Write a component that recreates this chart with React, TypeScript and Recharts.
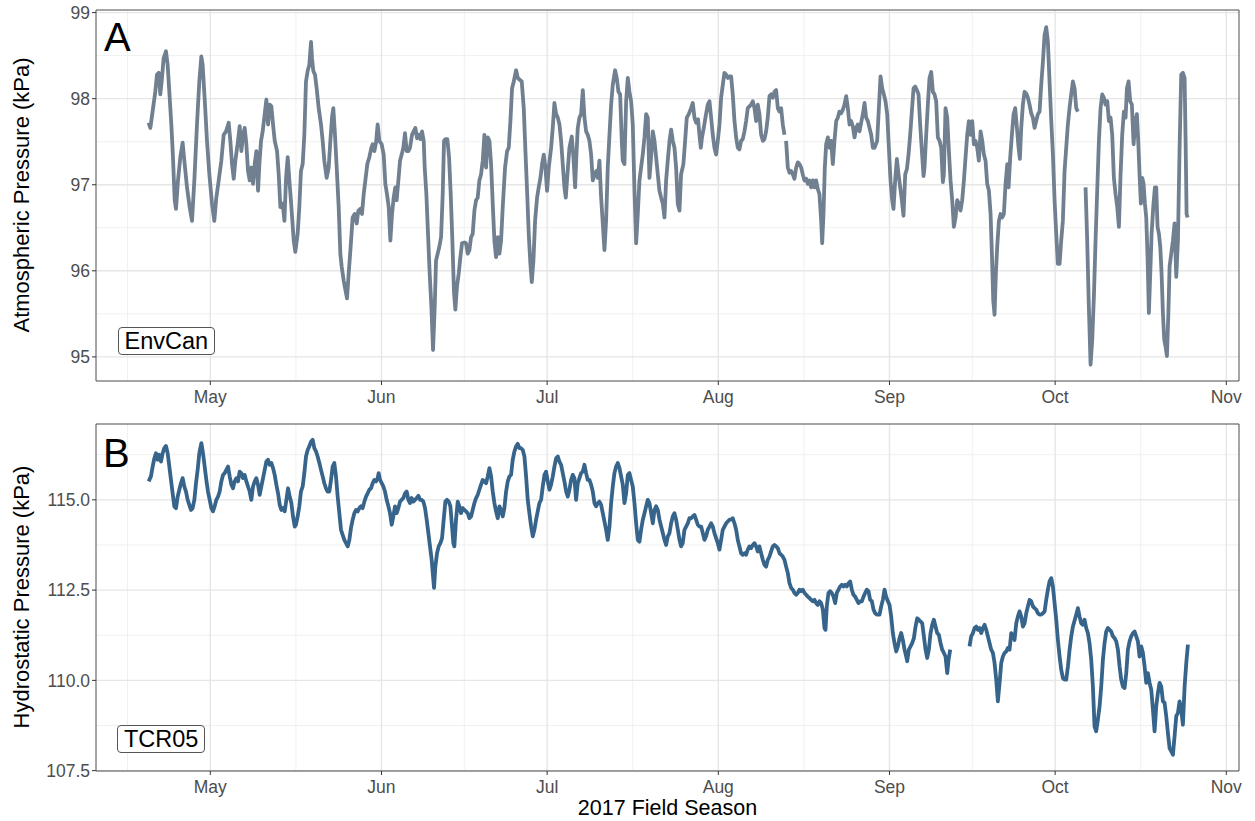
import React from "react";
import { LineChart, Line, XAxis, YAxis, CartesianGrid, ReferenceArea } from "recharts";

type Pt = [number, number | null];

// [day of year 2017 (Jan 1 = 0), kPa]; null = gap in the record
const envCanApr: Pt[] = [
  [108.83, 97.72], [109.14, 97.66], [109.44, 97.8], [110.04, 98.08], [110.34, 98.28], [110.65, 98.3], [110.95, 98.05],
  [111.25, 98.24], [111.55, 98.47], [111.97, 98.55], [112.28, 98.39], [112.58, 98.08], [112.94, 97.7], [113.24, 97.32],
  [113.55, 96.82], [113.79, 96.72], [114.15, 97.05], [114.57, 97.32], [114.99, 97.49], [115.36, 97.24], [115.78, 96.97],
  [116.26, 96.74], [116.69, 96.58], [117.11, 97.05], [117.59, 97.7], [118.01, 98.2], [118.38, 98.49], [118.62, 98.39],
  [118.98, 98.0], [119.4, 97.51], [119.83, 97.12],
];
const envCanMay: Pt[] = [
  [120.31, 96.78], [120.73, 96.58], [121.09, 96.85], [121.52, 97.05], [122.0, 97.28], [122.42, 97.58], [122.85, 97.62],
  [123.33, 97.72], [123.63, 97.51], [123.93, 97.24], [124.24, 97.07], [124.54, 97.28], [125.02, 97.51], [125.32, 97.68],
  [125.63, 97.39], [125.93, 97.58], [126.23, 97.66], [126.53, 97.47], [126.83, 97.16], [127.14, 97.05], [127.44, 97.2],
  [127.74, 97.01], [128.04, 97.24], [128.34, 97.39], [128.65, 96.93], [128.89, 97.24], [129.19, 97.51], [129.49, 97.62],
  [129.85, 97.82], [130.16, 97.99], [130.46, 97.7], [130.76, 97.93], [131.06, 97.91], [131.36, 97.7], [131.67, 97.51],
  [132.09, 97.39], [132.39, 97.12], [132.69, 96.74], [133.11, 96.78], [133.42, 96.58], [133.72, 97.08], [134.02, 97.32],
  [134.32, 97.05], [134.69, 96.74], [135.11, 96.35], [135.4, 96.22], [135.82, 96.43], [136.12, 96.74], [136.42, 97.16],
  [136.73, 97.24], [137.03, 97.58], [137.33, 98.2], [137.63, 98.32], [137.93, 98.39], [138.24, 98.66], [138.42, 98.47],
  [138.66, 98.32], [138.96, 98.28], [139.26, 98.12], [139.63, 97.89], [140.05, 97.7], [140.35, 97.51], [140.65, 97.28],
  [141.07, 97.08], [141.44, 97.2], [141.74, 97.51], [142.04, 97.78], [142.28, 97.89], [142.58, 97.58], [142.89, 97.2],
  [143.25, 96.74], [143.55, 96.2], [143.79, 96.05], [144.15, 95.89], [144.46, 95.78], [144.76, 95.68], [145.06, 95.97],
  [145.42, 96.28], [145.78, 96.62], [146.15, 96.66], [146.51, 96.55], [146.81, 96.7], [147.17, 96.72], [147.47, 96.66],
  [147.78, 96.89], [148.08, 97.05], [148.44, 97.24], [148.8, 97.32], [149.17, 97.43], [149.41, 97.47], [149.71, 97.39],
  [150.01, 97.49], [150.31, 97.7], [150.62, 97.51],
];
const envCanJun: Pt[] = [
  [151.04, 97.47], [151.4, 97.35], [151.7, 97.01], [152.0, 96.89], [152.31, 96.74], [152.61, 96.35], [152.91, 96.66],
  [153.21, 96.85], [153.51, 96.97], [153.75, 96.82], [154.06, 97.05], [154.36, 97.28], [154.66, 97.35], [154.96, 97.43],
  [155.26, 97.6], [155.57, 97.39], [155.87, 97.39], [156.17, 97.43], [156.53, 97.58], [156.83, 97.62], [157.14, 97.66],
  [157.44, 97.54], [157.74, 97.58], [158.04, 97.53], [158.34, 97.62], [158.65, 97.51], [158.83, 97.2], [159.13, 96.89],
  [159.43, 96.43], [159.73, 95.97], [160.04, 95.58], [160.34, 95.08], [160.64, 95.58], [160.88, 96.12], [161.18, 96.2],
  [161.48, 96.28], [161.79, 96.39], [162.09, 96.89], [162.33, 97.51], [162.57, 97.53], [162.93, 97.53], [163.24, 97.32],
  [163.54, 96.89], [163.84, 96.35], [164.14, 95.74], [164.38, 95.55], [164.68, 95.82], [164.99, 95.97], [165.29, 96.16],
  [165.59, 96.32], [166.01, 96.33], [166.31, 96.32], [166.62, 96.2], [166.92, 96.24], [167.22, 96.39], [167.52, 96.43],
  [167.83, 96.7], [168.13, 96.82], [168.43, 96.85], [168.73, 97.05], [169.03, 97.12], [169.34, 97.28], [169.64, 97.58],
  [169.94, 97.2], [170.24, 97.55], [170.55, 97.51], [170.85, 97.24], [171.15, 96.78], [171.45, 96.35], [171.75, 96.16],
  [172.06, 96.39], [172.36, 96.2], [172.66, 96.35], [172.96, 96.74], [173.38, 97.2], [173.75, 97.39], [174.05, 97.43],
  [174.35, 97.74], [174.65, 98.12], [174.96, 98.2], [175.38, 98.33], [175.68, 98.24], [176.04, 98.22], [176.4, 98.2],
  [176.77, 97.89], [177.07, 97.39], [177.37, 96.93], [177.67, 96.43], [177.97, 96.08], [178.22, 95.87], [178.52, 96.12],
  [178.82, 96.58], [179.18, 96.85], [179.48, 96.97], [179.79, 97.08], [180.09, 97.24], [180.39, 97.35], [180.69, 97.2],
  [180.99, 96.93],
];
const envCanJul: Pt[] = [
  [181.3, 97.2], [181.72, 97.43], [182.02, 97.66], [182.32, 97.95], [182.63, 97.82], [182.93, 97.78], [183.23, 97.7],
  [183.53, 97.51], [183.83, 97.24], [184.13, 96.97], [184.38, 96.85], [184.68, 97.12], [185.04, 97.43], [185.46, 97.56],
  [185.76, 97.32], [186.07, 96.97], [186.31, 97.35], [186.55, 97.66], [186.85, 97.78], [187.15, 97.82], [187.46, 98.1],
  [187.76, 97.78], [188.06, 97.62], [188.36, 97.58], [188.66, 97.51], [188.97, 97.35], [189.27, 97.05], [189.57, 97.12],
  [189.93, 97.16], [190.17, 97.08], [190.47, 97.28], [190.78, 96.85], [191.08, 96.55], [191.38, 96.24], [191.68, 96.58],
  [191.98, 97.2], [192.29, 97.58], [192.59, 97.93], [192.89, 98.16], [193.31, 98.33], [193.61, 98.24], [193.92, 98.08],
  [194.22, 98.05], [194.52, 97.51], [194.7, 97.28], [195.0, 97.24], [195.31, 97.97], [195.61, 98.24], [195.91, 98.08],
  [196.21, 97.97], [196.51, 97.7], [196.82, 96.93], [197.12, 96.32], [197.42, 96.66], [197.72, 97.05], [198.02, 97.2],
  [198.32, 97.35], [198.63, 97.55], [198.93, 97.82], [199.23, 97.78], [199.53, 97.08], [199.83, 97.32], [200.14, 97.62],
  [200.44, 97.51], [200.74, 97.32], [201.04, 97.12], [201.34, 96.93], [201.65, 96.85], [201.95, 96.78], [202.25, 96.62],
  [202.55, 97.05], [202.85, 97.28], [203.16, 97.51], [203.46, 97.64], [203.76, 97.51], [204.06, 97.43], [204.36, 97.2],
  [204.66, 96.78], [204.97, 96.7], [205.26, 97.12], [205.68, 97.24], [205.99, 97.51], [206.29, 97.78], [206.65, 97.82],
  [207.07, 97.89], [207.38, 97.95], [207.68, 97.78], [207.98, 97.72], [208.34, 97.76], [208.58, 97.58], [208.83, 97.43],
  [209.07, 97.56], [209.37, 97.66], [209.67, 97.78], [210.09, 97.93], [210.4, 97.97], [210.7, 97.78], [211.0, 97.58],
  [211.3, 97.43], [211.6, 97.35], [211.91, 97.51],
];
const envCanAug: Pt[] = [
  [212.21, 97.7], [212.51, 98.01], [212.81, 98.16], [213.11, 98.3], [213.42, 98.28], [213.72, 98.24], [214.02, 98.26],
  [214.32, 98.26], [214.62, 98.05], [214.93, 97.74], [215.23, 97.55], [215.53, 97.43], [215.83, 97.41], [216.13, 97.51],
  [216.43, 97.53], [216.74, 97.62], [217.04, 97.74], [217.34, 97.89], [217.64, 97.91], [217.94, 97.93], [218.25, 97.97],
  [218.55, 97.89], [218.85, 97.74], [219.15, 97.93], [219.45, 97.82], [219.76, 97.58], [220.06, 97.51], [220.36, 97.53],
  [220.66, 97.62], [220.96, 97.78], [221.27, 98.03], [221.57, 98.05], [221.87, 98.01], [222.17, 98.08], [222.47, 98.1],
  [222.78, 97.89], [223.08, 97.85], [223.38, 97.89], [223.68, 97.7], [223.98, 97.58], [224.13, null], [224.28, 97.51],
  [224.59, 97.2], [224.89, 97.14], [225.19, 97.16], [225.49, 97.12], [225.79, 97.07], [226.1, 97.2], [226.4, 97.26],
  [226.7, 97.24], [227.0, 97.2], [227.3, 97.12], [227.61, 97.05], [227.91, 97.07], [228.21, 97.01], [228.51, 97.05],
  [228.81, 96.97], [229.12, 97.05], [229.42, 96.97], [229.72, 97.05], [230.02, 96.95], [230.32, 96.89], [230.63, 96.58],
  [230.81, 96.32], [231.05, 96.66], [231.29, 97.2], [231.53, 97.47], [231.84, 97.55], [232.14, 97.43], [232.44, 97.51],
  [232.74, 97.24], [233.04, 97.51], [233.35, 97.74], [233.65, 97.78], [233.95, 97.85], [234.25, 97.83], [234.55, 97.87],
  [234.85, 97.93], [235.16, 98.03], [235.46, 97.89], [235.76, 97.7], [236.06, 97.74], [236.36, 97.68], [236.67, 97.55],
  [236.97, 97.66], [237.27, 97.7], [237.57, 97.62], [237.87, 97.72], [238.18, 97.82], [238.48, 97.95], [238.78, 97.78],
  [239.08, 97.74], [239.38, 97.66], [239.69, 97.58], [239.99, 97.43], [240.29, 97.43], [240.77, 97.51], [241.08, 97.89],
  [241.38, 98.26], [241.68, 98.12], [241.98, 98.05], [242.28, 97.97], [242.59, 97.82], [242.89, 97.43],
];
const envCanSep: Pt[] = [
  [243.19, 97.05], [243.49, 96.82], [243.73, 96.72], [244.03, 97.05], [244.34, 97.3], [244.64, 97.12], [244.94, 96.97],
  [245.24, 96.82], [245.54, 96.64], [245.85, 97.12], [246.15, 97.18], [246.45, 97.35], [246.75, 97.58], [247.05, 97.85],
  [247.36, 98.12], [247.66, 98.14], [247.96, 98.1], [248.26, 98.05], [248.56, 97.7], [248.87, 97.39], [249.17, 97.1],
  [249.35, 97.2], [249.65, 97.58], [249.95, 97.93], [250.25, 98.24], [250.56, 98.31], [250.86, 98.08], [251.16, 98.05],
  [251.46, 97.97], [251.76, 97.55], [252.07, 97.51], [252.37, 97.43], [252.67, 97.03], [252.85, 97.12], [253.15, 97.89],
  [253.46, 97.78], [253.76, 97.39], [254.06, 97.05], [254.36, 96.82], [254.66, 96.51], [254.97, 96.62], [255.27, 96.82],
  [255.57, 96.78], [255.87, 96.7], [256.17, 96.82], [256.48, 97.05], [256.78, 97.32], [257.08, 97.58], [257.38, 97.74],
  [257.68, 97.58], [257.99, 97.74], [258.29, 97.47], [258.59, 97.51], [258.89, 97.43], [259.19, 97.28], [259.5, 97.62],
  [259.8, 97.51], [260.1, 97.35], [260.4, 97.28], [260.7, 97.01], [261.01, 96.93], [261.31, 96.66], [261.55, 96.2],
  [261.79, 95.66], [262.03, 95.49], [262.27, 95.97], [262.51, 96.28], [262.82, 96.58], [263.12, 96.66], [263.42, 96.62],
  [263.72, 96.66], [264.02, 97.01], [264.33, 97.24], [264.57, 96.97], [264.87, 97.32], [265.17, 97.58], [265.47, 97.82],
  [265.77, 97.89], [266.08, 97.66], [266.38, 97.43], [266.62, 97.3], [266.86, 97.66], [267.16, 97.93], [267.46, 98.08],
  [267.77, 98.06], [268.07, 98.01], [268.37, 97.93], [268.67, 97.83], [268.97, 97.78], [269.28, 97.66], [269.58, 97.74],
  [269.88, 97.82], [270.18, 97.85], [270.48, 98.16], [270.79, 98.43], [271.09, 98.74], [271.39, 98.83], [271.69, 98.66],
  [271.99, 98.2], [272.3, 97.74], [272.6, 97.35], [272.9, 96.82],
];
const envCanOct: Pt[] = [
  [273.2, 96.43], [273.5, 96.08], [273.81, 96.08], [274.1, 96.35], [274.4, 96.58], [274.71, 97.16], [275.01, 97.43],
  [275.31, 97.7], [275.61, 97.89], [275.91, 98.05], [276.22, 98.2], [276.52, 98.12], [276.82, 97.89], [277.12, 97.85],
  [277.8, null], [278.51, 96.97], [278.81, 96.35], [279.11, 95.58], [279.42, 94.91], [279.72, 95.2], [280.02, 95.7],
  [280.32, 96.35], [280.62, 96.93], [280.93, 97.51], [281.23, 97.89], [281.53, 98.05], [281.83, 98.01], [282.13, 97.93],
  [282.44, 97.97], [282.74, 97.74], [283.04, 97.78], [283.34, 97.58], [283.64, 97.08], [283.95, 96.89], [284.25, 96.74],
  [284.55, 96.51], [284.85, 97.12], [285.15, 97.58], [285.45, 97.85], [285.76, 97.78], [286.0, 98.12], [286.3, 98.2],
  [286.6, 97.97], [286.9, 97.93], [287.21, 97.47], [287.51, 97.74], [287.81, 97.82], [288.05, 97.51], [288.29, 97.12],
  [288.53, 96.78], [288.78, 97.08], [289.02, 97.01], [289.26, 96.78], [289.5, 96.62], [289.74, 96.16], [289.98, 95.51],
  [290.23, 95.97], [290.47, 96.43], [290.77, 96.74], [291.07, 96.97], [291.31, 96.97], [291.55, 96.51], [291.8, 96.43],
  [292.04, 96.28], [292.28, 95.97], [292.52, 95.51], [292.76, 95.2], [293.0, 95.12], [293.25, 95.01], [293.49, 95.47],
  [293.73, 96.05], [294.03, 96.2], [294.33, 96.35], [294.63, 96.55], [294.94, 95.93], [295.24, 96.35], [295.54, 97.43],
  [295.84, 98.28], [296.14, 98.3], [296.45, 98.24], [296.63, 97.51], [296.81, 96.66], [296.99, 96.62],
];

const tcrApr: Pt[] = [
  [108.83, 115.51], [109.25, 115.65], [109.56, 115.92], [109.86, 116.15], [110.16, 116.29], [110.46, 116.11],
  [110.76, 116.25], [111.07, 116.06], [111.37, 116.29], [111.67, 116.43], [111.97, 116.49], [112.28, 116.29],
  [112.58, 115.92], [112.88, 115.55], [113.18, 115.18], [113.48, 114.82], [113.79, 114.77], [114.09, 115.09],
  [114.39, 115.28], [114.69, 115.46], [114.99, 115.6], [115.29, 115.37], [115.6, 115.23], [115.9, 115.0],
  [116.2, 114.86], [116.5, 114.72], [116.8, 114.77], [117.11, 115.0], [117.41, 115.46], [117.71, 115.83],
  [118.01, 116.29], [118.38, 116.57], [118.68, 116.29], [118.98, 115.92], [119.28, 115.55], [119.58, 115.23],
  [119.89, 115.0],
];
const tcrMay: Pt[] = [
  [120.19, 114.77], [120.49, 114.68], [120.79, 114.82], [121.09, 115.0], [121.4, 115.09], [121.7, 115.23],
  [122.0, 115.51], [122.3, 115.69], [122.6, 115.74], [122.9, 115.83], [123.21, 115.92], [123.51, 115.65],
  [123.81, 115.42], [124.11, 115.32], [124.41, 115.51], [124.72, 115.6], [125.02, 115.51], [125.32, 115.78],
  [125.62, 115.74], [125.92, 115.6], [126.23, 115.69], [126.53, 115.51], [126.83, 115.37], [127.13, 115.23],
  [127.43, 115.0], [127.74, 115.37], [128.04, 115.51], [128.34, 115.6], [128.64, 115.42], [128.94, 115.14],
  [129.25, 115.37], [129.55, 115.6], [129.85, 115.83], [130.15, 116.06], [130.45, 116.11], [130.76, 115.97],
  [131.06, 116.02], [131.36, 115.88], [131.66, 115.69], [131.96, 115.42], [132.27, 115.18], [132.57, 114.86],
  [132.87, 114.72], [133.17, 114.77], [133.47, 114.68], [133.78, 115.0], [134.08, 115.32], [134.38, 115.09],
  [134.68, 114.91], [134.98, 114.54], [135.29, 114.26], [135.52, 114.31], [135.82, 114.54], [136.12, 114.82],
  [136.42, 115.23], [136.73, 115.37], [137.03, 115.74], [137.33, 116.2], [137.63, 116.38], [137.93, 116.48],
  [138.24, 116.61], [138.54, 116.66], [138.84, 116.43], [139.14, 116.34], [139.44, 116.2], [139.75, 116.02],
  [140.05, 115.83], [140.35, 115.65], [140.65, 115.46], [140.95, 115.32], [141.25, 115.23], [141.56, 115.23],
  [141.86, 115.55], [142.16, 115.92], [142.46, 116.02], [142.76, 115.65], [143.07, 115.09], [143.37, 114.63],
  [143.67, 114.17], [143.97, 114.03], [144.27, 113.89], [144.58, 113.8], [144.88, 113.71], [145.18, 113.89],
  [145.48, 114.22], [145.78, 114.45], [146.09, 114.63], [146.39, 114.72], [146.69, 114.68], [146.99, 114.77],
  [147.29, 114.82], [147.59, 114.77], [147.9, 114.95], [148.2, 115.09], [148.5, 115.18], [148.8, 115.28],
  [149.1, 115.32], [149.41, 115.46], [149.71, 115.55], [150.01, 115.51], [150.31, 115.6], [150.49, 115.74],
  [150.74, 115.55],
];
const tcrJun: Pt[] = [
  [151.04, 115.46], [151.34, 115.37], [151.64, 115.23], [151.94, 115.0], [152.25, 114.82], [152.55, 114.63],
  [152.85, 114.31], [153.15, 114.54], [153.45, 114.82], [153.75, 114.63], [154.06, 114.77], [154.36, 114.95],
  [154.66, 115.0], [154.96, 115.05], [155.26, 115.18], [155.57, 115.23], [155.87, 115.0], [156.17, 114.91],
  [156.47, 115.05], [156.77, 114.95], [157.08, 115.0], [157.38, 115.05], [157.68, 115.11], [157.98, 115.0],
  [158.28, 115.0], [158.59, 114.95], [158.89, 114.77], [159.19, 114.45], [159.49, 114.08], [159.79, 113.71],
  [160.09, 113.34], [160.34, 112.88], [160.52, 112.56], [160.76, 113.15], [161.06, 113.52], [161.36, 113.71],
  [161.67, 113.8], [161.97, 113.94], [162.27, 114.45], [162.57, 114.95], [162.87, 115.0], [163.18, 114.95],
  [163.48, 114.82], [163.78, 114.26], [164.02, 113.8], [164.2, 113.71], [164.5, 114.45], [164.81, 114.95],
  [165.11, 114.82], [165.41, 114.63], [165.71, 114.77], [166.01, 114.72], [166.31, 114.68], [166.62, 114.63],
  [166.92, 114.49], [167.22, 114.54], [167.52, 114.72], [167.83, 114.91], [168.13, 115.05], [168.43, 115.14],
  [168.73, 115.28], [169.03, 115.42], [169.34, 115.55], [169.94, 115.46], [170.24, 115.65], [170.55, 115.88],
  [170.85, 115.65], [171.15, 115.23], [171.45, 114.91], [171.75, 114.68], [172.06, 114.49], [172.36, 114.82],
  [172.66, 114.72], [172.96, 114.54], [173.26, 114.77], [173.57, 115.23], [173.87, 115.51], [174.17, 115.65],
  [174.47, 115.69], [174.77, 116.11], [175.08, 116.34], [175.38, 116.48], [175.68, 116.55], [175.98, 116.43],
  [176.28, 116.43], [176.59, 116.38], [176.89, 116.2], [177.19, 115.65], [177.49, 115.0], [177.79, 114.63],
  [178.1, 114.26], [178.4, 113.99], [178.7, 114.17], [179.0, 114.45], [179.3, 114.68], [179.6, 114.91],
  [179.91, 115.0], [180.21, 115.37], [180.51, 115.69], [180.81, 115.78],
];
const tcrJul: Pt[] = [
  [181.11, 115.51], [181.42, 115.28], [181.72, 115.42], [182.02, 115.65], [182.32, 115.92], [182.62, 116.15],
  [182.93, 116.2], [183.23, 116.06], [183.53, 115.97], [183.83, 115.74], [184.13, 115.51], [184.44, 115.23],
  [184.74, 115.09], [185.04, 115.28], [185.34, 115.55], [185.64, 115.69], [185.94, 115.6], [186.25, 115.0],
  [186.55, 115.46], [186.85, 115.6], [187.15, 115.74], [187.45, 115.78], [187.76, 115.97], [188.06, 115.74],
  [188.36, 115.55], [188.66, 115.55], [188.96, 115.42], [189.27, 115.23], [189.57, 114.91], [189.87, 114.82],
  [190.17, 114.91], [190.47, 114.95], [190.78, 114.86], [191.08, 114.63], [191.38, 114.4], [191.68, 114.17],
  [191.98, 113.89], [192.29, 114.26], [192.59, 114.91], [192.89, 115.37], [193.19, 115.74], [193.49, 115.92],
  [193.8, 116.02], [194.1, 115.88], [194.4, 115.65], [194.7, 115.42], [195.0, 114.91], [195.31, 115.18],
  [195.61, 115.69], [195.91, 115.74], [196.21, 115.55], [196.51, 115.37], [196.82, 114.91], [197.12, 114.35],
  [197.42, 113.89], [197.72, 113.84], [198.02, 114.17], [198.33, 114.45], [198.63, 114.63], [198.93, 114.82],
  [199.23, 115.0], [199.53, 114.91], [199.84, 114.63], [200.14, 114.35], [200.44, 114.72], [200.74, 114.82],
  [201.04, 114.72], [201.35, 114.45], [201.65, 114.26], [201.95, 114.08], [202.25, 113.89], [202.55, 113.75],
  [202.86, 113.99], [203.16, 114.08], [203.46, 114.35], [203.76, 114.54], [204.06, 114.63], [204.36, 114.45],
  [204.67, 114.17], [204.97, 113.89], [205.26, 113.71], [205.56, 113.8], [205.87, 114.17], [206.17, 114.26],
  [206.47, 114.35], [206.77, 114.49], [207.07, 114.49], [207.38, 114.54], [207.68, 114.58], [207.98, 114.45],
  [208.28, 114.31], [208.58, 114.26], [208.89, 114.26], [209.19, 114.08], [209.49, 113.89], [209.79, 113.99],
  [210.09, 114.17], [210.4, 114.26], [210.7, 114.35], [211.0, 114.26], [211.3, 114.08], [211.6, 113.94],
  [211.91, 113.8],
];
const tcrAug: Pt[] = [
  [212.21, 113.62], [212.51, 113.89], [212.81, 114.17], [213.11, 114.26], [213.42, 114.35], [213.72, 114.4],
  [214.02, 114.45], [214.32, 114.45], [214.62, 114.49], [214.93, 114.35], [215.23, 114.17], [215.53, 113.89],
  [215.83, 113.71], [216.13, 113.52], [216.43, 113.48], [216.74, 113.52], [217.04, 113.48], [217.34, 113.62],
  [217.64, 113.71], [217.94, 113.66], [218.25, 113.75], [218.55, 113.8], [218.85, 113.71], [219.15, 113.57],
  [219.45, 113.71], [219.76, 113.52], [220.06, 113.34], [220.36, 113.2], [220.66, 113.15], [220.96, 113.34],
  [221.27, 113.43], [221.57, 113.57], [221.87, 113.71], [222.17, 113.75], [222.47, 113.71], [222.78, 113.66],
  [223.08, 113.52], [223.38, 113.48], [223.68, 113.43], [223.98, 113.34], [224.28, 113.15], [224.59, 112.97],
  [224.89, 112.69], [225.19, 112.56], [225.49, 112.51], [225.79, 112.42], [226.1, 112.37], [226.4, 112.42],
  [226.7, 112.51], [227.0, 112.47], [227.3, 112.51], [227.61, 112.42], [227.91, 112.37], [228.21, 112.32],
  [228.51, 112.28], [228.81, 112.23], [229.12, 112.19], [229.42, 112.23], [229.72, 112.14], [230.02, 112.09],
  [230.32, 112.19], [230.63, 112.14], [230.93, 111.96], [231.23, 111.45], [231.41, 111.4], [231.65, 112.05],
  [231.95, 112.42], [232.26, 112.47], [232.56, 112.42], [232.86, 112.32], [233.16, 112.14], [233.46, 112.42],
  [233.77, 112.51], [234.07, 112.6], [234.37, 112.65], [234.67, 112.6], [234.97, 112.65], [235.28, 112.6],
  [235.58, 112.69], [235.88, 112.74], [236.18, 112.51], [236.48, 112.37], [236.79, 112.32], [237.09, 112.23],
  [237.39, 112.14], [237.69, 112.19], [237.99, 112.19], [238.3, 112.32], [238.6, 112.42], [238.9, 112.51],
  [239.2, 112.47], [239.5, 112.23], [239.81, 112.19], [240.11, 111.96], [240.41, 111.86], [240.71, 111.82],
  [241.2, 111.82], [241.5, 112.05], [241.8, 112.23], [242.1, 112.51], [242.4, 112.32], [242.71, 112.19],
];
const tcrSep: Pt[] = [
  [243.01, 112.09], [243.31, 111.77], [243.61, 111.31], [243.91, 111.03], [244.22, 110.8], [244.52, 110.94],
  [244.82, 111.17], [245.12, 111.31], [245.42, 111.12], [245.73, 110.85], [246.03, 110.66], [246.21, 110.53],
  [246.51, 110.85], [246.81, 110.94], [247.11, 111.03], [247.42, 111.17], [247.72, 111.49], [248.02, 111.72],
  [248.32, 111.68], [248.62, 111.63], [248.93, 111.58], [249.23, 111.22], [249.53, 110.85], [249.83, 110.62],
  [250.13, 110.85], [250.44, 111.31], [250.74, 111.54], [251.04, 111.68], [251.34, 111.49], [251.64, 111.31],
  [251.95, 111.26], [252.25, 111.03], [252.55, 110.85], [252.85, 110.76], [253.15, 110.66], [253.46, 110.2],
  [253.7, 110.57], [254.0, 110.85], [255.5, null], [257.5, 110.94], [257.8, 111.22], [258.11, 111.31],
  [258.41, 111.45], [258.71, 111.49], [259.01, 111.4], [259.31, 111.45], [259.62, 111.31], [259.92, 111.45],
  [260.22, 111.54], [260.52, 111.4], [260.82, 111.22], [261.13, 111.03], [261.43, 110.85], [261.73, 110.76],
  [262.03, 110.48], [262.33, 110.02], [262.63, 109.42], [262.94, 109.93], [263.24, 110.48], [263.54, 110.66],
  [263.84, 110.76], [264.14, 110.8], [264.45, 110.9], [264.75, 110.85], [265.05, 111.31], [265.35, 111.22],
  [265.65, 111.12], [265.96, 111.58], [266.26, 111.77], [266.56, 111.91], [266.86, 111.77], [267.16, 111.49],
  [267.47, 111.58], [267.77, 111.86], [268.07, 112.05], [268.37, 112.23], [268.67, 112.19], [268.98, 112.05],
  [269.28, 112.0], [269.58, 111.96], [269.88, 111.86], [270.18, 111.82], [270.48, 111.82], [270.79, 111.86],
  [271.09, 111.91], [271.39, 112.23], [271.69, 112.51], [271.99, 112.74], [272.3, 112.83], [272.6, 112.6],
  [272.9, 112.14],
];
const tcrOct: Pt[] = [
  [273.2, 111.68], [273.5, 111.12], [273.81, 110.66], [274.11, 110.29], [274.41, 110.06], [274.71, 110.02],
  [275.01, 110.02], [275.32, 110.39], [275.62, 110.85], [275.92, 111.22], [276.22, 111.49], [276.82, 111.82],
  [277.12, 112.0], [277.42, 111.77], [277.73, 111.58], [278.03, 111.54], [278.33, 111.68], [278.63, 111.45],
  [278.93, 111.31], [279.23, 111.03], [279.54, 110.57], [279.84, 109.83], [280.14, 108.72], [280.44, 108.59],
  [280.74, 108.91], [281.05, 109.28], [281.35, 109.83], [281.65, 110.57], [281.95, 111.03], [282.25, 111.35],
  [282.56, 111.45], [282.86, 111.4], [283.16, 111.35], [283.46, 111.22], [283.76, 111.17], [284.07, 111.08],
  [284.37, 110.85], [284.67, 110.39], [284.97, 110.02], [285.27, 109.83], [285.58, 109.79], [285.88, 110.2],
  [286.18, 110.85], [286.48, 111.08], [286.78, 111.22], [287.09, 111.31], [287.39, 111.35], [287.69, 111.22],
  [287.99, 111.08], [288.29, 110.66], [288.6, 110.94], [288.9, 110.76], [289.2, 110.39], [289.5, 109.93],
  [289.8, 110.2], [290.11, 109.93], [290.41, 109.74], [290.71, 109.19], [291.01, 108.59], [291.31, 109.28],
  [291.61, 109.65], [291.92, 109.93], [292.22, 109.83], [292.52, 109.42], [292.82, 109.38], [293.12, 109.01],
  [293.43, 108.54], [293.73, 108.12], [294.03, 108.03], [294.33, 107.94], [294.63, 108.45], [294.94, 109.01],
  [295.24, 109.1], [295.54, 109.42], [295.84, 109.19], [296.14, 108.77], [296.45, 109.83], [296.75, 110.48],
  [297.05, 110.99],
];

// axis breaks (day of year)
const monthTicks = [120, 151, 181, 212, 243, 273, 304];
const monthLabels = ["May", "Jun", "Jul", "Aug", "Sep", "Oct", "Nov"];
const monthMinor = [105, 135.5, 166, 196.5, 227.5, 258, 288.5];
const xDomain: [number, number] = [99.3, 306.3];

const envCanTicks = [95, 96, 97, 98, 99];
const envCanMinor = [95.5, 96.5, 97.5, 98.5];
const tcrTicks = [107.5, 110, 112.5, 115];
const tcrMinor = [108.75, 111.25, 113.75, 116.25];

const toRows = (parts: Pt[][]) => parts.flat().map(([day, kpa]) => ({ day, kpa }));
const envCan = toRows([envCanApr, envCanMay, envCanJun, envCanJul, envCanAug, envCanSep, envCanOct]);
const tcr05 = toRows([tcrApr, tcrMay, tcrJun, tcrJul, tcrAug, tcrSep, tcrOct]);

const FONT = '"Liberation Sans", Arial, Helvetica, sans-serif';

type PanelProps = {
  data: { day: number; kpa: number | null }[];
  color: string;
  yDomain: [number, number];
  yTicks: number[];
  yMinor: number[];
  yFormat: (v: number) => string;
  height: number;
  top: number;
  axisHeight: number;
};

function PressurePanel({ data, color, yDomain, yTicks, yMinor, yFormat, height, top, axisHeight }: PanelProps) {
  const tickStyle = { fill: "#4d4d4d", fontSize: 17.5, fontFamily: FONT };
  return (
    <LineChart width={1255} height={height} data={data} margin={{ top, right: 16, bottom: 0, left: 0 }}>
      <CartesianGrid verticalValues={monthMinor} horizontalValues={yMinor} stroke="#f0f0f0" strokeWidth={1} />
      <CartesianGrid verticalValues={monthTicks} horizontalValues={yTicks} stroke="#e6e6e6" strokeWidth={1.4} />
      <XAxis
        type="number"
        dataKey="day"
        domain={xDomain}
        ticks={monthTicks}
        interval={0}
        allowDataOverflow
        tickFormatter={(v: number) => monthLabels[monthTicks.indexOf(v)]}
        axisLine={false}
        tickLine={{ stroke: "#333" }}
        tickSize={4}
        tickMargin={6}
        height={axisHeight}
        tick={tickStyle}
      />
      <YAxis
        type="number"
        domain={yDomain}
        ticks={yTicks}
        interval={0}
        allowDataOverflow
        tickFormatter={yFormat}
        axisLine={false}
        tickLine={{ stroke: "#333" }}
        tickSize={4}
        width={96}
        tick={tickStyle}
      />
      <Line
        type="linear"
        dataKey="kpa"
        stroke={color}
        strokeWidth={3.8}
        strokeLinejoin="round"
        dot={false}
        activeDot={false}
        isAnimationActive={false}
      />
      <ReferenceArea
        x1={xDomain[0]}
        x2={xDomain[1]}
        y1={yDomain[0]}
        y2={yDomain[1]}
        fill="none"
        stroke="#4d4d4d"
        strokeWidth={1}
        ifOverflow="visible"
      />
    </LineChart>
  );
}

function SiteTag({ text, left, top }: { text: string; left: number; top: number }) {
  return (
    <div
      style={{
        position: "absolute",
        left,
        top,
        border: "1px solid #555",
        borderRadius: 4,
        background: "#fff",
        fontSize: 23.5,
        lineHeight: "25px",
        padding: "1px 6px 0 6px",
        whiteSpace: "nowrap",
      }}
    >
      {text}
    </div>
  );
}

const yTitle: React.CSSProperties = {
  position: "absolute",
  left: 22,
  fontSize: 22,
  lineHeight: 1,
  whiteSpace: "nowrap",
  transform: "translate(-50%, -50%) rotate(-90deg)",
};

const panelLetter: React.CSSProperties = {
  position: "absolute",
  fontSize: 40,
  lineHeight: 1,
};

export default function App() {
  return (
    <div
      style={{
        position: "absolute",
        left: 0,
        top: 0,
        width: 1255,
        height: 821,
        background: "#fff",
        fontFamily: FONT,
        color: "#000",
        overflow: "hidden",
      }}
    >
      <div style={{ position: "absolute", left: 0, top: 0 }}>
        <PressurePanel
          data={envCan}
          color="#708090"
          yDomain={[94.72, 99.03]}
          yTicks={envCanTicks}
          yMinor={envCanMinor}
          yFormat={(v) => String(v)}
          height={410}
          top={10}
          axisHeight={29}
        />
      </div>
      <div style={{ position: "absolute", left: 0, top: 410 }}>
        <PressurePanel
          data={tcr05}
          color="#36648b"
          yDomain={[107.49, 117.1]}
          yTicks={tcrTicks}
          yMinor={tcrMinor}
          yFormat={(v) => v.toFixed(1)}
          height={411}
          top={14}
          axisHeight={50}
        />
      </div>

      <div style={{ ...yTitle, top: 195 }}>Atmospheric Pressure (kPa)</div>
      <div style={{ ...yTitle, top: 597 }}>Hydrostatic Pressure (kPa)</div>
      <div
        style={{
          position: "absolute",
          left: 667.5,
          top: 798,
          fontSize: 21.5,
          lineHeight: 1,
          whiteSpace: "nowrap",
          transform: "translateX(-50%)",
        }}
      >
        2017 Field Season
      </div>

      <div style={{ ...panelLetter, left: 104, top: 17 }}>A</div>
      <div style={{ ...panelLetter, left: 103, top: 433 }}>B</div>
      <SiteTag text="EnvCan" left={117.5} top={327} />
      <SiteTag text="TCR05" left={117} top={725} />
    </div>
  );
}
